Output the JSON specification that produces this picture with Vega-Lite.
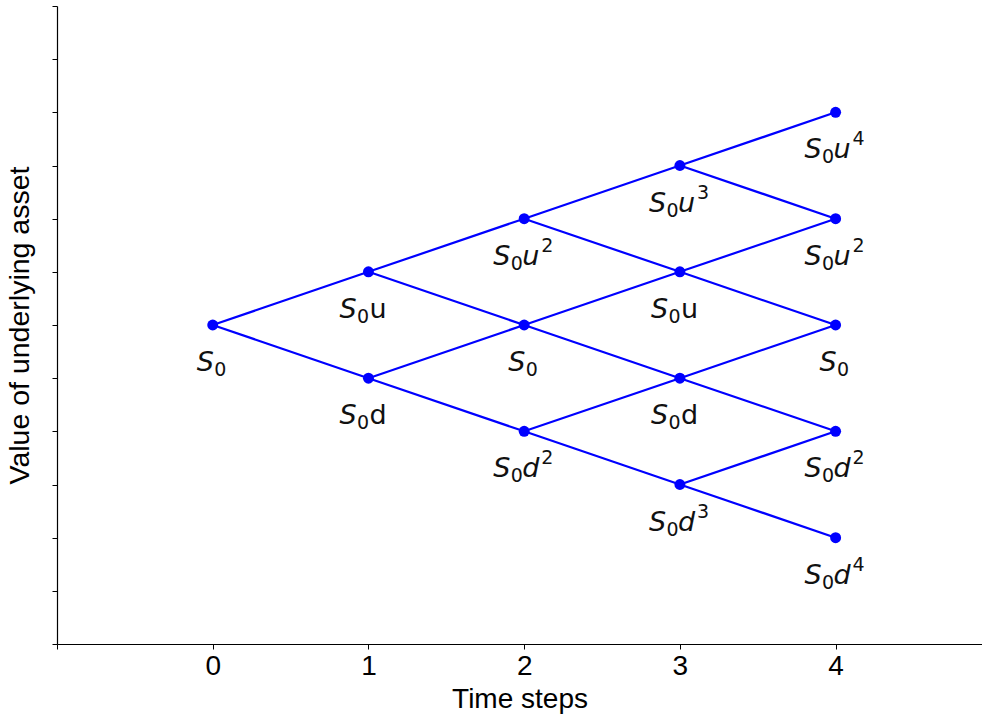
{
  "$schema": "https://vega.github.io/schema/vega-lite/v6.json",
  "width": 925,
  "height": 638,
  "autosize": {"type": "none"},
  "padding": {"left": 57, "top": 6, "right": 0, "bottom": 74},
  "background": "white",
  "config": {"view": {"stroke": null}},
  "datasets": {
    "edges": [
      {"t": 0, "v": 0, "t2": 1, "v2": 1}, {"t": 0, "v": 0, "t2": 1, "v2": -1},
      {"t": 1, "v": 1, "t2": 2, "v2": 2}, {"t": 1, "v": 1, "t2": 2, "v2": 0},
      {"t": 1, "v": -1, "t2": 2, "v2": 0}, {"t": 1, "v": -1, "t2": 2, "v2": -2},
      {"t": 2, "v": 2, "t2": 3, "v2": 3}, {"t": 2, "v": 2, "t2": 3, "v2": 1},
      {"t": 2, "v": 0, "t2": 3, "v2": 1}, {"t": 2, "v": 0, "t2": 3, "v2": -1},
      {"t": 2, "v": -2, "t2": 3, "v2": -1}, {"t": 2, "v": -2, "t2": 3, "v2": -3},
      {"t": 3, "v": 3, "t2": 4, "v2": 4}, {"t": 3, "v": 3, "t2": 4, "v2": 2},
      {"t": 3, "v": 1, "t2": 4, "v2": 2}, {"t": 3, "v": 1, "t2": 4, "v2": 0},
      {"t": 3, "v": -1, "t2": 4, "v2": 0}, {"t": 3, "v": -1, "t2": 4, "v2": -2},
      {"t": 3, "v": -3, "t2": 4, "v2": -2}, {"t": 3, "v": -3, "t2": 4, "v2": -4}
    ],
    "nodes": [
      {"t": 0, "v": 0, "kind": "A", "letter": "", "power": ""},
      {"t": 1, "v": 1, "kind": "B", "letter": "u", "power": ""},
      {"t": 1, "v": -1, "kind": "B", "letter": "d", "power": ""},
      {"t": 2, "v": 2, "kind": "C", "letter": "u", "power": "2"},
      {"t": 2, "v": 0, "kind": "A", "letter": "", "power": ""},
      {"t": 2, "v": -2, "kind": "C", "letter": "d", "power": "2"},
      {"t": 3, "v": 3, "kind": "C", "letter": "u", "power": "3"},
      {"t": 3, "v": 1, "kind": "B", "letter": "u", "power": ""},
      {"t": 3, "v": -1, "kind": "B", "letter": "d", "power": ""},
      {"t": 3, "v": -3, "kind": "C", "letter": "d", "power": "3"},
      {"t": 4, "v": 4, "kind": "C", "letter": "u", "power": "4"},
      {"t": 4, "v": 2, "kind": "C", "letter": "u", "power": "2"},
      {"t": 4, "v": 0, "kind": "A", "letter": "", "power": ""},
      {"t": 4, "v": -2, "kind": "C", "letter": "d", "power": "2"},
      {"t": 4, "v": -4, "kind": "C", "letter": "d", "power": "4"}
    ]
  },
  "encoding": {
    "x": {"field": "t", "type": "quantitative"},
    "y": {"field": "v", "type": "quantitative"}
  },
  "layer": [
    {
      "data": {"name": "edges"},
      "mark": {"type": "rule", "color": "#0000ff", "strokeWidth": 2.2},
      "encoding": {
        "x": {
          "field": "t", "type": "quantitative",
          "scale": {"domain": [-1, 4.94], "nice": false, "zero": false},
          "axis": {
            "values": [-1, 0, 1, 2, 3, 4],
            "format": "d",
            "labelExpr": "datum.value >= 0 ? datum.label : ''",
            "title": "Time steps",
            "grid": false,
            "domainColor": "#000", "domainWidth": 1.2,
            "tickColor": "#000", "tickSize": 5, "tickWidth": 1,
            "labelFont": "Liberation Sans", "labelFontSize": 28, "labelColor": "#000", "labelPadding": 3,
            "titleFont": "Liberation Sans", "titleFontSize": 28, "titleFontWeight": "normal", "titleColor": "#000", "titlePadding": 5
          }
        },
        "y": {
          "field": "v", "type": "quantitative",
          "scale": {"domain": [-6, 6], "nice": false, "zero": false},
          "axis": {
            "values": [-6, -5, -4, -3, -2, -1, 0, 1, 2, 3, 4, 5, 6],
            "labels": false,
            "title": "Value of underlying asset",
            "grid": false,
            "domainColor": "#000", "domainWidth": 1.2,
            "tickColor": "#000", "tickSize": 5, "tickWidth": 1,
            "titleFont": "Liberation Sans", "titleFontSize": 28.5, "titleFontWeight": "normal", "titleColor": "#000", "titlePadding": 17
          }
        },
        "x2": {"field": "t2"},
        "y2": {"field": "v2"}
      }
    },
    {
      "mark": {"type": "rule", "color": "#000", "strokeWidth": 1.2},
      "encoding": {"x": null, "y": {"datum": 6, "type": "quantitative"}}
    },
    {
      "data": {"name": "nodes"},
      "mark": {"type": "circle", "color": "#0000ff", "opacity": 1, "size": 120}
    },
    {
      "data": {"name": "nodes"},
      "transform": [{"filter": "datum.kind === 'A'"}],
      "layer": [
        {"mark": {"type": "text", "text": "S", "font": "DejaVu Sans", "fontStyle": "italic", "fontSize": 27, "color": "#111", "align": "left", "baseline": "alphabetic", "dx": -16, "dy": 46}},
        {"mark": {"type": "text", "text": "0", "font": "DejaVu Sans", "fontSize": 19, "color": "#111", "align": "left", "baseline": "alphabetic", "dx": 1.5, "dy": 51}}
      ]
    },
    {
      "data": {"name": "nodes"},
      "transform": [{"filter": "datum.kind === 'B'"}],
      "layer": [
        {"mark": {"type": "text", "text": "S", "font": "DejaVu Sans", "fontStyle": "italic", "fontSize": 27, "color": "#111", "align": "left", "baseline": "alphabetic", "dx": -29, "dy": 46}},
        {"mark": {"type": "text", "text": "0", "font": "DejaVu Sans", "fontSize": 19, "color": "#111", "align": "left", "baseline": "alphabetic", "dx": -11.5, "dy": 51}},
        {"mark": {"type": "text", "font": "DejaVu Sans", "fontSize": 27, "color": "#111", "align": "left", "baseline": "alphabetic", "dx": 1, "dy": 46}, "encoding": {"text": {"field": "letter"}}}
      ]
    },
    {
      "data": {"name": "nodes"},
      "transform": [{"filter": "datum.kind === 'C'"}],
      "layer": [
        {"mark": {"type": "text", "text": "S", "font": "DejaVu Sans", "fontStyle": "italic", "fontSize": 27, "color": "#111", "align": "left", "baseline": "alphabetic", "dx": -31, "dy": 46}},
        {"mark": {"type": "text", "text": "0", "font": "DejaVu Sans", "fontSize": 19, "color": "#111", "align": "left", "baseline": "alphabetic", "dx": -13.5, "dy": 51}},
        {"mark": {"type": "text", "font": "DejaVu Sans", "fontStyle": "italic", "fontSize": 27, "color": "#111", "align": "left", "baseline": "alphabetic", "dx": -2, "dy": 46}, "encoding": {"text": {"field": "letter"}}},
        {"mark": {"type": "text", "font": "DejaVu Sans", "fontSize": 19, "color": "#111", "align": "left", "baseline": "alphabetic", "dx": 17, "dy": 33}, "encoding": {"text": {"field": "power"}}}
      ]
    }
  ]
}
